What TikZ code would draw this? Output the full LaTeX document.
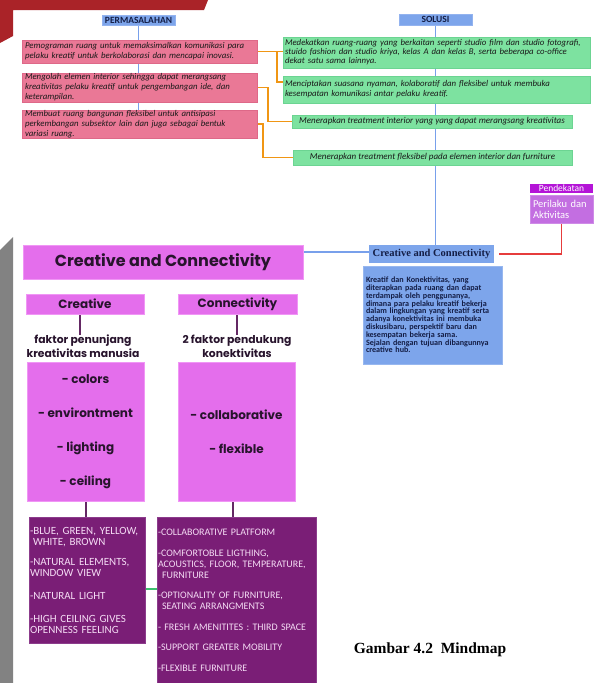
\documentclass[tikz,border=0pt]{standalone}
\usepackage{fontspec}
\setmainfont{Carlito}
\newfontfamily\pop{Poppins}
\newfontfamily\tms{Liberation Serif}
\usetikzlibrary{calc,backgrounds}
\definecolor{pinkc}{RGB}{234,120,150}
\definecolor{pinkd}{RGB}{222,104,136}
\definecolor{greenc}{RGB}{125,226,160}
\definecolor{greend}{RGB}{108,212,146}
\definecolor{bluel}{RGB}{125,165,235}
\definecolor{bluen}{RGB}{120,160,235}
\definecolor{orangel}{RGB}{240,150,20}
\definecolor{magc}{RGB}{228,110,236}
\definecolor{magd}{RGB}{240,150,245}
\definecolor{darkp}{RGB}{122,30,118}
\definecolor{darkpd}{RGB}{140,60,140}
\definecolor{plum}{RGB}{100,40,100}
\definecolor{pendhc}{RGB}{180,20,215}
\definecolor{pendbc}{RGB}{195,110,225}
\definecolor{redl}{RGB}{230,60,60}
\definecolor{bannerc}{RGB}{170,35,40}
\definecolor{greybar}{RGB}{130,130,130}
\definecolor{dtext}{RGB}{245,220,245}
\definecolor{ttext}{RGB}{40,20,45}
\definecolor{navy}{RGB}{20,30,70}
\definecolor{greenl}{RGB}{60,190,110}
\tikzset{
  every node/.style={inner sep=0pt, outer sep=0pt},
  headbox/.style={anchor=north west, fill=bluel, draw=bluen!80!white, line width=0.5pt,
     font=\bfseries\fontsize{9.5}{9}\selectfont, text=navy},
  pinkbox/.style={anchor=north west, fill=pinkc, draw=pinkd, line width=0.5pt, inner xsep=3pt,
     align=left, font=\itshape\fontsize{8.8}{10}\selectfont, text=black!90},
  greenbox/.style={anchor=north west, fill=greenc, draw=greend, line width=0.5pt, inner xsep=2pt,
     align=left, font=\itshape\fontsize{8.8}{9}\selectfont, text=black!90},
  pendhead/.style={anchor=north west, fill=pendhc, font=\fontsize{9.5}{10}\selectfont, text=white},
  pendbox/.style={anchor=north west, fill=pendbc, draw=pendbc!80!white, inner xsep=3pt, align=left,
     font=\fontsize{10.5}{11}\selectfont, text=white},
  cclab/.style={anchor=north west, fill=bluel, font=\tms\bfseries\fontsize{10.5}{12}\selectfont, text=navy},
  descbox/.style={anchor=north west, fill=bluel, draw=bluel!80!white, inner xsep=3pt, align=left,
     font=\bfseries\fontsize{8.1}{7.8}\selectfont, text=navy},
  magbox/.style={anchor=north west, fill=magc, draw=magd, line width=0.6pt,
     font=\pop\bfseries\fontsize{12}{14}\selectfont, text=ttext},
  subtxt/.style={align=center, font=\pop\bfseries\fontsize{10.8}{14}\selectfont, text=ttext},
  darkbox/.style={anchor=north west, fill=darkp, draw=darkpd, line width=0.6pt, inner xsep=1pt,
     align=left, font=\fontsize{10}{11}\selectfont, text=dtext},
  bline/.style={draw=bluen, line width=1.4pt},
  oline/.style={draw=orangel, line width=1.4pt},
  rline/.style={draw=redl, line width=1.8pt},
  pline/.style={draw=plum, line width=2pt},
  gline/.style={draw=greenl, line width=1.6pt},
}
\begin{document}
\begin{tikzpicture}[x=1pt,y=-1pt]
\useasboundingbox (0,0) rectangle (601,683);
\begin{pgfonlayer}{background}
  \fill[white] (0,0) rectangle (601,683);
  \fill[bannerc] (0,0) -- (208,0) -- (204,10) -- (13,10) -- (13,36) -- (0,43) -- cycle;
  \fill[greybar] (0,250) -- (13,237) -- (13,683) -- (0,683) -- cycle;
\end{pgfonlayer}

% PERMASALAHAN
\node[headbox, minimum width=73pt, minimum height=10pt] (perm) at (102,15) {PERMASALAHAN};
\node[pinkbox, text width=229pt, minimum height=23pt] (p1) at (22,40)
  {Pemograman ruang untuk memaksimalkan komunikasi para\\pelaku kreatif untuk berkolaborasi dan mencapai inovasi.};
\node[pinkbox, text width=229pt, minimum height=29pt] (p2) at (22,73)
  {Mengolah elemen interior sehingga dapat merangsang\\kreativitas pelaku kreatif untuk pengembangan ide, dan\\keterampilan.};
\node[pinkbox, text width=229pt, minimum height=28pt] (p3) at (22,110)
  {Membuat ruang bangunan fleksibel untuk antisipasi\\perkembangan subsektor lain dan juga sebagai bentuk\\variasi ruang.};

% SOLUSI
\node[headbox, minimum width=73pt, minimum height=11pt] (sol) at (399,14) {SOLUSI};
\node[greenbox, text width=303pt, minimum height=31pt] (g1) at (283,37)
  {Medekatkan ruang-ruang yang berkaitan seperti studio film dan studio fotografi,\\stuido fashion dan studio kriya, kelas A dan kelas B, serta beberapa co-office\\dekat satu sama lainnya.};
\node[greenbox, text width=303pt, minimum height=27pt, font=\itshape\fontsize{8.8}{10}\selectfont] (g2) at (283,76)
  {Menciptakan suasana nyaman, kolaboratif dan fleksibel untuk membuka\\kesempatan komunikasi antar pelaku kreatif.};
\node[greenbox, align=center, minimum width=280pt, minimum height=13pt, font=\itshape\fontsize{9}{10}\selectfont] (g3) at (292,115)
  {Menerapkan treatment interior yang yang dapat merangsang kreativitas};
\node[greenbox, align=center, minimum width=279pt, minimum height=15pt, font=\itshape\fontsize{9}{10}\selectfont] (g4) at (293,150)
  {Menerapkan treatment fleksibel pada elemen interior dan furniture};

% Pendekatan
\node[pendhead, minimum width=63pt, minimum height=9pt] (pendh) at (530,184) {Pendekatan};
\node[pendbox, text width=57pt, minimum height=28pt] (pendb) at (530,195) {Perilaku dan\\Aktivitas};

% Creative and Connectivity label + description
\node[cclab, minimum width=125pt, minimum height=18pt] (ccl) at (369,245) {Creative and Connectivity};
\node[descbox, text width=133pt, minimum height=98pt] (desc) at (363,266)
  {Kreatif dan Konektivitas, yang\\diterapkan pada ruang dan dapat\\terdampak oleh penggunanya,\\dimana para pelaku kreatif bekerja\\dalam lingkungan yang kreatif serta\\adanya konektivitas ini membuka\\diskusibaru, perspektif baru dan\\kesempatan bekerja sama.\\Sejalan dengan tujuan dibangunnya\\creative hub.};

% Left mind map
\node[magbox, minimum width=280pt, minimum height=34pt, font=\pop\bfseries\fontsize{16}{18}\selectfont] (title) at (23,245) {Creative and Connectivity};
\node[magbox, minimum width=118pt, minimum height=20pt] (cre) at (26,294) {Creative};
\node[magbox, minimum width=119pt, minimum height=20pt] (con) at (178,294) {Connectivity};
\node[subtxt] (cret) at (83,346) {faktor penunjang\\kreativitas manusia};
\node[subtxt] (cont) at (237,346) {2 faktor pendukung\\konektivitas};
\node[magbox, align=center, minimum width=117pt, minimum height=139pt, font=\pop\bfseries\fontsize{12}{34}\selectfont] (crel) at (27,362)
  {- colors\\- environtment\\- lighting\\- ceiling};
\node[magbox, align=center, minimum width=117pt, minimum height=139pt, font=\pop\bfseries\fontsize{12}{34}\selectfont] (conl) at (178,362)
  {- collaborative\\- flexible};

\node[darkbox, text width=114pt, minimum height=126pt, font=\fontsize{11}{11}\selectfont] (dl) at (29,517)
  {-BLUE, GREEN, YELLOW,\\\hspace*{3pt}WHITE, BROWN\\[9pt]-NATURAL ELEMENTS,\\WINDOW VIEW\\[12pt]-NATURAL LIGHT\\[12pt]-HIGH CEILING GIVES\\OPENNESS FEELING};
\node[darkbox, text width=157pt, minimum height=166pt] (dr) at (157,517)
  {-COLLABORATIVE PLATFORM\\[10pt]-COMFORTOBLE LIGTHING,\\ACOUSTICS, FLOOR, TEMPERATURE,\\\hspace*{4pt}FURNITURE\\[9pt]-OPTIONALITY OF FURNITURE,\\\hspace*{4pt}SEATING ARRANGMENTS\\[10pt]- FRESH AMENITITES : THIRD SPACE\\[9pt]-SUPPORT GREATER MOBILITY\\[10pt]-FLEXIBLE FURNITURE};

% Caption
\node[font=\tms\bfseries\fontsize{15.5}{18}\selectfont, text=black] (cap) at (430,650) {Gambar 4.2\ \ Mindmap};

% Connectors
\begin{pgfonlayer}{background}
  \draw[bline] (perm.south) -- (perm.south |- p3.north);
  \draw[bline] (sol.south) -- (sol.south |- ccl.north);
  \draw[oline] (p1.east) -- (p1.east -| g1.west);
  \draw[oline] (p1.east) -- ++(20,0) |- ($(g2.north west)+(0,6)$);
  \draw[oline] (p2.east) -- ++(11,0) |- (g3.west);
  \draw[oline] (p3.east) -- ++(6,0) |- (g4.west);
  \draw[rline] (pendb.south) |- ([xshift=5pt]ccl.east);
  \draw[bline] ([yshift=2pt]ccl.west) -- ([yshift=2pt]ccl.west -| title.east);
  \draw[pline] ([xshift=-3pt]cret.north) -- ([xshift=-3pt]cret.north |- cre.south);
  \draw[pline] (cont.north) -- (cont.north |- con.south);
  \draw[pline] (crel.south) -- (crel.south |- dl.north);
  \draw[pline] ([xshift=-4pt]conl.south) -- ([xshift=-4pt]conl.south |- dr.north);
  \draw[gline] ([yshift=-9pt]dl.east) -- ([yshift=-9pt]dl.east -| dr.west);
\end{pgfonlayer}
\end{tikzpicture}
\end{document}
